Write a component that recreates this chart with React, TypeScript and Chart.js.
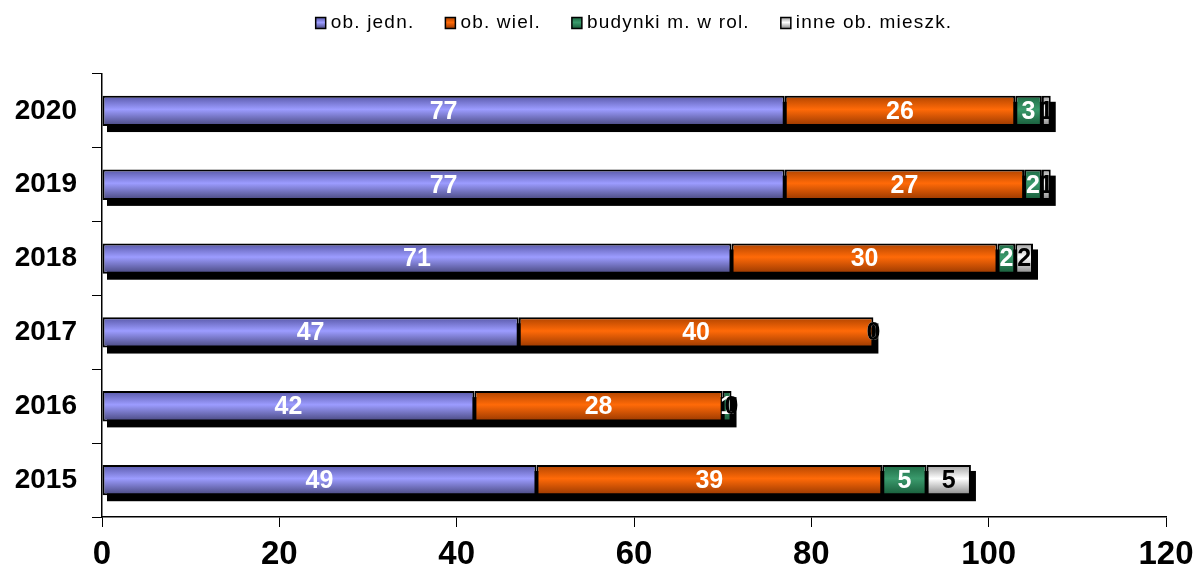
import React, { useEffect, useRef } from 'react';
import { Chart, registerables } from 'chart.js';

Chart.register(...registerables);

const categories = ['2020', '2019', '2018', '2017', '2016', '2015'];
const seriesNames = ['ob. jedn.', 'ob. wiel.', 'budynki m. w rol.', 'inne ob. mieszk.'];
const obJedn = [77, 77, 71, 47, 42, 49];
const obWiel = [26, 27, 30, 40, 28, 39];
const budynkiRol = [3, 2, 2, 0, 1, 5];
const inneMieszk = [1, 1, 2, 0, 0, 5];
const xTickValues = [0, 20, 40, 60, 80, 100, 120];

const seriesValues = [obJedn, obWiel, budynkiRol, inneMieszk];

const palettes = [
  { top: '#5858a8', mid: '#9c9cff', bottom: '#48487e', label: '#ffffff' },
  { top: '#b04400', mid: '#ff6a08', bottom: '#983800', label: '#ffffff' },
  { top: '#1e6a44', mid: '#3a9a6c', bottom: '#185c3a', label: '#ffffff' },
  { top: '#a0a0a0', mid: '#ffffff', bottom: '#888888', label: '#000000' },
];

const FONT = '"Liberation Sans", Arial, sans-serif';

function makeGradient(chart: any, index: number, p: any) {
  const ys = chart.scales && chart.scales.y;
  if (!chart.chartArea || !ys) return p.mid;
  const c = ys.getPixelForValue(index);
  const h = 15;
  const g = chart.ctx.createLinearGradient(0, c - h, 0, c + h);
  g.addColorStop(0, p.top);
  g.addColorStop(0.45, p.mid);
  g.addColorStop(1, p.bottom);
  return g;
}

const shadowPlugin = {
  id: 'barShadow',
  beforeDatasetsDraw(chart: any) {
    const ctx = chart.ctx;
    const xs = chart.scales.x;
    const meta0 = chart.getDatasetMeta(0);
    ctx.save();
    ctx.fillStyle = '#000';
    categories.forEach((_, i) => {
      const total = seriesValues.reduce((s, arr) => s + arr[i], 0);
      const el = meta0.data[i];
      if (!el) return;
      const { y, height } = el.getProps(['y', 'height'], true);
      const x0 = xs.getPixelForValue(0);
      const x1 = xs.getPixelForValue(total);
      ctx.fillRect(x0 + 5, y - height / 2 + 6, x1 - x0, height);
    });
    ctx.restore();
  },
};

const labelPlugin = {
  id: 'segLabels',
  afterDatasetsDraw(chart: any) {
    const ctx = chart.ctx;
    ctx.save();
    ctx.font = `bold 25px ${FONT}`;
    ctx.textAlign = 'center';
    ctx.textBaseline = 'middle';
    chart.data.datasets.forEach((ds: any, di: number) => {
      const meta = chart.getDatasetMeta(di);
      meta.data.forEach((el: any, i: number) => {
        const { x, y, base } = el.getProps(['x', 'y', 'base'], true);
        ctx.fillStyle = palettes[di].label;
        ctx.fillText(String(ds.data[i]), (x + base) / 2, y + 1);
      });
    });
    ctx.restore();
  },
};

const legendPlugin = {
  id: 'customLegend',
  afterDraw(chart: any) {
    const ctx = chart.ctx;
    const area = chart.chartArea;
    ctx.save();
    ctx.font = `19px ${FONT}`;
    (ctx as any).letterSpacing = '1.2px';
    const box = 11;
    const gapText = 4;
    const gapItem = 31;
    const widths = seriesNames.map((n) => ctx.measureText(n).width);
    const total = widths.reduce((s, w) => s + box + gapText + w, 0) + gapItem * (seriesNames.length - 1);
    let x = (area.left + area.right) / 2 - total / 2;
    const cy = 23;
    seriesNames.forEach((name, i) => {
      const p = palettes[i];
      const g = ctx.createLinearGradient(0, cy - box / 2, 0, cy + box / 2);
      g.addColorStop(0, p.top);
      g.addColorStop(0.45, p.mid);
      g.addColorStop(1, p.bottom);
      ctx.fillStyle = g;
      ctx.fillRect(x, cy - box / 2, box - 1, box);
      ctx.strokeStyle = '#000';
      ctx.lineWidth = 1.5;
      ctx.strokeRect(x, cy - box / 2, box - 1, box);
      ctx.fillStyle = '#000';
      ctx.textAlign = 'left';
      ctx.textBaseline = 'middle';
      ctx.fillText(name, x + box + gapText, cy);
      x += box + gapText + widths[i] + gapItem;
    });
    ctx.restore();
  },
};

export default function App() {
  const ref = useRef<HTMLCanvasElement | null>(null);

  useEffect(() => {
    if (!ref.current) return;
    const chart = new Chart(ref.current, {
      type: 'bar',
      data: {
        labels: categories,
        datasets: seriesValues.map((vals, di) => ({
          label: seriesNames[di],
          data: vals,
          backgroundColor: (c: any) => makeGradient(c.chart, c.dataIndex, palettes[di]),
          borderColor: '#000',
          borderWidth: 2,
          borderSkipped: false,
          categoryPercentage: 1,
          barPercentage: 0.41,
        })),
      },
      options: {
        indexAxis: 'y',
        responsive: false,
        animation: false,
        devicePixelRatio: 1,
        layout: { padding: { top: 74, right: 30, left: 0, bottom: 0 } },
        plugins: {
          legend: { display: false },
          tooltip: { enabled: false },
        },
        scales: {
          x: {
            stacked: true,
            min: 0,
            max: 120,
            afterBuildTicks: (s: any) => {
              s.ticks = xTickValues.map((v) => ({ value: v }));
            },
            afterFit: (s: any) => {
              s.height = 48;
              s.paddingLeft = 0;
              s.paddingRight = 0;
            },
            grid: { drawOnChartArea: false, drawTicks: true, tickLength: 10, color: '#000', lineWidth: 1 },
            border: { display: true, color: '#000', width: 1.5 },
            ticks: {
              color: '#000',
              font: { family: FONT, size: 33, weight: 'bold' },
              padding: 8,
              maxRotation: 0,
            },
          },
          y: {
            stacked: true,
            afterFit: (s: any) => {
              s.width = 102;
            },
            grid: { offset: true, drawOnChartArea: false, drawTicks: true, tickLength: 10, color: '#000', lineWidth: 1 },
            border: { display: true, color: '#000', width: 1.5 },
            ticks: {
              color: '#000',
              font: { family: FONT, size: 28, weight: 'bold' },
              padding: 15,
            },
          },
        },
      },
      plugins: [shadowPlugin, labelPlugin, legendPlugin],
    } as any);
    return () => chart.destroy();
  }, []);

  return (
    <div style={{ position: 'fixed', left: 0, top: 0, width: 1196, height: 565, background: '#fff' }}>
      <canvas ref={ref} width={1196} height={565} style={{ display: 'block' }} />
    </div>
  );
}
